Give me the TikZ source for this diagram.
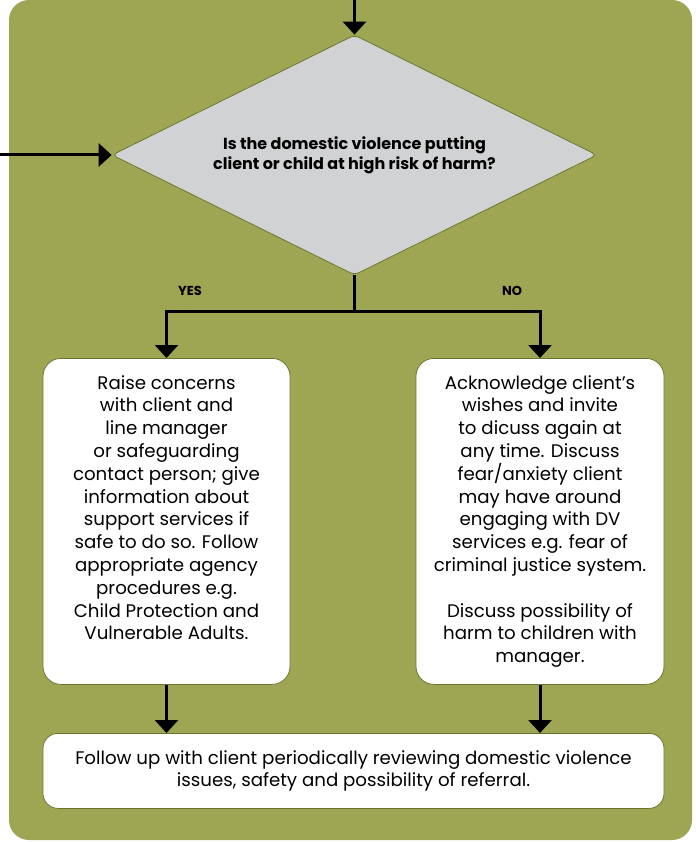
\documentclass[tikz,border=0pt]{standalone}
\usepackage{fontspec}
\setmainfont{Poppins}
\usetikzlibrary{shapes.geometric,arrows.meta,positioning}

\definecolor{olivebg}{RGB}{158,166,83}
\definecolor{oliveline}{RGB}{104,116,44}
\definecolor{qgray}{RGB}{209,210,212}

\tikzset{every picture/.style={line width=0.75pt}}
\tikzset{
  flowarrow/.style={line width=3pt, -{Triangle[width=23pt,length=13pt]}},
  question/.style={diamond, aspect=2.02, draw=oliveline, fill=qgray, minimum width=485pt, minimum height=240pt, inner sep=0pt, rounded corners=5pt, align=center, font=\bfseries\fontsize{16}{20}\selectfont},
  infobox/.style={draw=oliveline, fill=white, rounded corners=18pt, align=center, inner sep=0pt, font=\fontsize{18.2}{22.8}\selectfont},
  branchlabel/.style={font=\bfseries\fontsize{13}{15}\selectfont},
}

\begin{document}
\begin{tikzpicture}[x=1pt,y=1pt,yscale=-1,xscale=1]
\useasboundingbox (0,0) rectangle (695,842);

% Background panel
\fill [olivebg, rounded corners=20pt] (9,0) rectangle (692,840);

% Decision
\node [question] (q) at (354.5,155) {Is the domestic violence putting\\client or child at high risk of harm?};

% Branch boxes
\node [infobox, minimum width=247pt, minimum height=326pt, anchor=north] (yesbox) at (166.5,358) {Raise concerns\\with client and\\line manager\\or safeguarding\\contact person; give\\information about\\support services if\\safe to do so. Follow\\appropriate agency\\procedures e.g.\\Child Protection and\\Vulnerable Adults.\\[5pt]};
\node [infobox, minimum width=248pt, minimum height=326pt, anchor=north] (nobox) at (540,358) {Acknowledge client’s\\wishes and invite\\to dicuss again at\\any time. Discuss\\fear/anxiety client\\may have around\\engaging with DV\\services e.g. fear of\\criminal justice system.\\[22.8pt]Discuss possibility of\\harm to children with\\manager.};

% Follow up
\node [infobox, rounded corners=15pt, minimum width=621pt, minimum height=75pt, anchor=north] (follow) at (353.5,733) {Follow up with client periodically reviewing domestic violence\\issues, safety and possibility of referral.};

% Branch labels
\node [branchlabel] (yeslbl) at (190,291) {YES};
\node [branchlabel] (nolbl) at (512,291) {NO};

% Connectors
\coordinate (topin) at (354.5,0);
\coordinate (leftin) at (0,155);
\draw [flowarrow] (topin) -- (q.north);
\draw [flowarrow] (leftin) -- (q.west);
\draw [flowarrow] (q.south) -- ++(0,36) -| (yesbox.north);
\draw [flowarrow] (q.south) -- ++(0,36) -| (nobox.north);
\draw [flowarrow] (yesbox.south) -- (yesbox.south |- follow.north);
\draw [flowarrow] (nobox.south) -- (nobox.south |- follow.north);

\end{tikzpicture}
\end{document}
